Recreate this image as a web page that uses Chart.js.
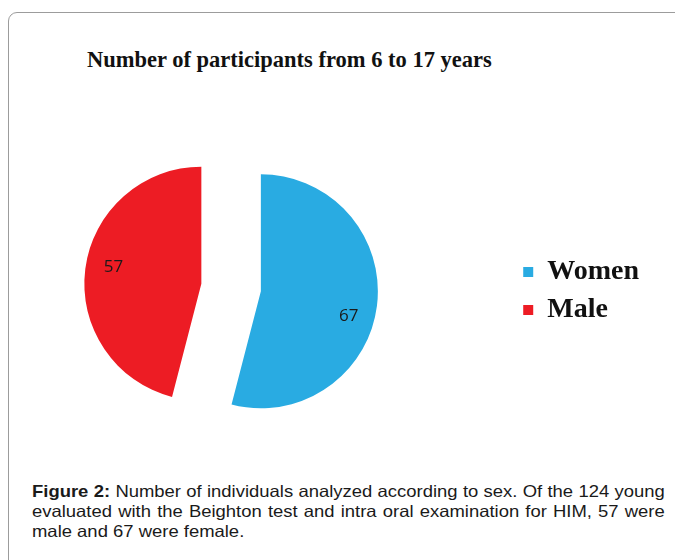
<!DOCTYPE html>
<html>
<head>
<meta charset="utf-8">
<script src="https://cdn.jsdelivr.net/npm/chart.js@4/dist/chart.umd.min.js"></script>
<style>
  html, body { margin:0; padding:0; background:#fff; width:675px; height:560px; overflow:hidden; }
  .frame { position:absolute; left:8px; top:12px; width:720px; height:600px; border:1px solid #9c9c9c; border-radius:9px; }
  .title { position:absolute; left:87px; top:47px; font:bold 22.5px "Liberation Serif", "Times New Roman", serif; line-height:26px; color:#111; white-space:nowrap; }
  .wrap { position:absolute; left:-51px; top:149px; width:726px; height:277px; }
  .caption { position:absolute; left:32px; top:481px; width:566px; font:16.5px "Liberation Sans", Arial, sans-serif; line-height:20px; color:#1a1a1a; text-align:justify; transform:scaleX(1.118); transform-origin:0 0; }
</style>
</head>
<body>
<div class="frame"></div>
<div class="title">Number of participants from 6 to 17 years</div>
<div class="wrap"><canvas id="pie"></canvas></div>
<div class="caption"><b>Figure 2:</b> Number of individuals analyzed according to sex. Of the 124 young evaluated with the Beighton test and intra oral examination for HIM, 57 were male and 67 were female.</div>
<script>
const labels = ['Women', 'Male'];
const counts = [67, 57];
const colors = ['#29abe2', '#ed1c24'];

const EXPLODE = 30; // px each slice is pulled out

// pull slices apart without shrinking their angle
const explode = {
  id: 'explode',
  beforeDatasetDraw(chart, args){
    const ctx = chart.ctx;
    args.meta.data.forEach(arc=>{
      const mid = (arc.startAngle + arc.endAngle)/2;
      ctx.save();
      ctx.translate(Math.cos(mid)*EXPLODE, Math.sin(mid)*EXPLODE);
      arc.draw(ctx);
      ctx.restore();
    });
    return false;
  }
};

// value labels on each slice
const sliceLabels = {
  id: 'sliceLabels',
  afterDatasetsDraw(chart){
    const ctx = chart.ctx;
    const meta = chart.getDatasetMeta(0);
    ctx.save();
    ctx.font = '17px "Open Sans", Lato, sans-serif';
    ctx.fillStyle = '#1a1a1a';
    ctx.textAlign = 'center'; ctx.textBaseline = 'middle';
    meta.data.forEach((el, i)=>{
      const a = (el.startAngle + el.endAngle)/2 + 4.5*Math.PI/180;
      const rho = EXPLODE + 0.77*el.outerRadius;
      ctx.fillText(String(counts[i]), el.x + Math.cos(a)*rho, el.y + Math.sin(a)*rho + 4);
    });
    ctx.restore();
  }
};

new Chart(document.getElementById('pie'), {
  type: 'pie',
  data: { labels: labels, datasets: [{
    data: counts,
    backgroundColor: colors,
    borderWidth: 0,
    hoverOffset: 0
  }]},
  options: {
    responsive: true, maintainAspectRatio: false, animation: false,
    radius: 117,
    layout: { padding: { left:0, top:0, bottom:0, right:26 } },
    plugins: {
      tooltip: { enabled:false },
      legend: {
        position: 'right',
        title: { display:true, text:'', padding:0, font:{ size:6 } },
        labels: { boxWidth:10, boxHeight:10, padding:10, color:'#111',
          font: { family:'"Liberation Serif", "Times New Roman", serif', size:28, weight:'bold' } }
      }
    }
  },
  plugins: [explode, sliceLabels]
});
</script>
</body>
</html>
